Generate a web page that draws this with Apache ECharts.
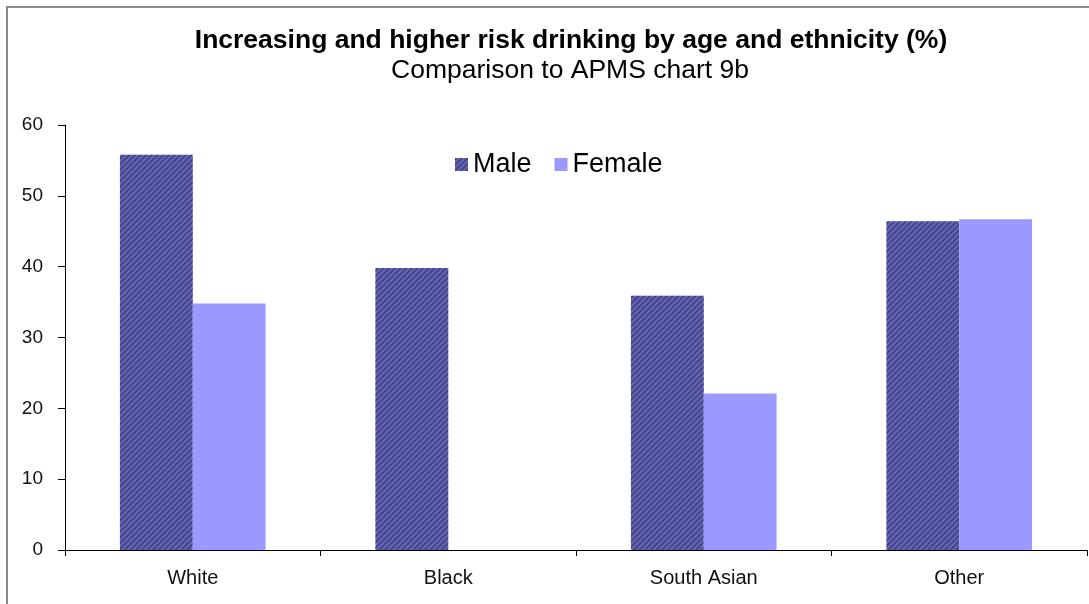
<!DOCTYPE html>
<html>
<head>
<meta charset="utf-8">
<style>
  html, body { margin: 0; padding: 0; background: #fff; }
  #chart { width: 1089px; height: 604px; }
</style>
<script src="https://cdn.jsdelivr.net/npm/echarts@6/dist/echarts.min.js"></script>
</head>
<body>
<div id="chart"></div>
<script>
// Share of people drinking at increasing or higher risk, by ethnic group and sex (%)
const categories = ['White', 'Black', 'South Asian', 'Other'];
const maleValues = [55.8, 39.8, 35.9, 46.4];
const femaleValues = [34.8, 0, 22.1, 46.7];
const yTicks = { min: 0, max: 60, interval: 10 };

const titleText = 'Increasing and higher risk drinking by age and ethnicity (%)';
const subtitleText = 'Comparison to APMS chart 9b';

const FONT = '"Liberation Sans", Arial, sans-serif';

const chart = echarts.init(document.getElementById('chart'), null, { renderer: 'canvas' });

chart.setOption({
  backgroundColor: '#ffffff',
  animation: false,
  legend: {
    top: 146, left: 450,
    itemWidth: 13, itemHeight: 13, itemGap: 23,
    icon: 'rect',
    textStyle: { fontFamily: FONT, fontSize: 27, color: '#000' },
    data: ['Male', 'Female']
  },
  grid: { left: 65, right: 2, top: 125, bottom: 54, containLabel: false },
  xAxis: {
    type: 'category',
    data: categories,
    axisLine: { lineStyle: { color: '#000', width: 1 } },
    axisTick: { show: true, inside: false, length: 6, lineStyle: { color: '#000' } },
    axisLabel: { fontFamily: FONT, fontSize: 20, color: '#111', margin: 18 },
    splitLine: { show: false }
  },
  yAxis: {
    type: 'value',
    min: yTicks.min, max: yTicks.max, interval: yTicks.interval,
    axisLine: { show: true, lineStyle: { color: '#000', width: 1 } },
    axisTick: { show: true, inside: false, length: 7, lineStyle: { color: '#000' } },
    axisLabel: { fontFamily: FONT, fontSize: 19, color: '#111', margin: 22, padding: [3, 0, 0, 0] },
    splitLine: { show: false }
  },
  series: [
    {
      name: 'Male',
      type: 'bar',
      data: maleValues,
      barGap: '0%',
      barCategoryGap: '43%',
      itemStyle: {
        color: '#6666b2',
        decal: {
          symbol: 'rect',
          symbolSize: 1,
          dashArrayX: [1, 0],
          dashArrayY: [2, 2],
          rotation: -Math.PI / 4,
          color: 'rgba(40, 40, 110, 0.55)'
        }
      }
    },
    {
      name: 'Female',
      type: 'bar',
      data: femaleValues,
      itemStyle: { color: '#9999ff' }
    }
  ],
  graphic: [
    {
      type: 'polyline',
      silent: true,
      shape: { points: [[7, 604], [7, 7], [1089, 7]] },
      style: { stroke: '#8a8a8a', lineWidth: 2, fill: null }
    },
    {
      type: 'text',
      silent: true,
      x: 571, y: 41,
      style: {
        text: titleText,
        font: 'bold 26.5px ' + FONT,
        fill: '#000',
        align: 'center',
        verticalAlign: 'middle'
      }
    },
    {
      type: 'text',
      silent: true,
      x: 570, y: 71,
      style: {
        text: subtitleText,
        font: '26.5px ' + FONT,
        fill: '#000',
        align: 'center',
        verticalAlign: 'middle'
      }
    }
  ]
});
</script>
</body>
</html>
